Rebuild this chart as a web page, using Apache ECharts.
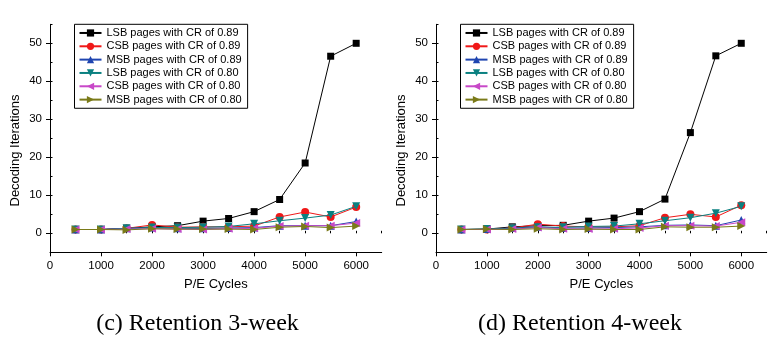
<!DOCTYPE html>
<html>
<head>
<meta charset="utf-8">
<script src="https://cdn.jsdelivr.net/npm/echarts@6/dist/echarts.min.js"></script>
<style>html,body{margin:0;padding:0;background:#fff;}#c{width:772px;height:348px;}</style>
</head>
<body>
<div id="c"></div>
<script>
const cycles = [500, 1000, 1500, 2000, 2500, 3000, 3500, 4000, 4500, 5000, 5500, 6000];
const xTicks = [0, 1000, 2000, 3000, 4000, 5000, 6000];
const yTicks = [0, 10, 20, 30, 40, 50];
const seriesNames = ['LSB pages with CR of 0.89', 'CSB pages with CR of 0.89', 'MSB pages with CR of 0.89',
                     'LSB pages with CR of 0.80', 'CSB pages with CR of 0.80', 'MSB pages with CR of 0.80'];
const captions = ['(c) Retention 3-week', '(d) Retention 4-week'];
const xTitle = 'P/E Cycles';
const yTitle = 'Decoding Iterations';

// (c) Retention 3-week
const lsb89_c = [1, 1, 1.3, 1.7, 2.0, 3.2, 3.9, 5.7, 8.9, 18.5, 46.6, 50];
const csb89_c = [1, 1, 1.3, 2.2, 1.6, 1.7, 1.7, 1.9, 4.3, 5.6, 4.3, 6.9];
const msb89_c = [1, 1, 1.3, 1.5, 1.3, 1.3, 1.4, 1.5, 2.0, 2.0, 2.0, 3.1];
const lsb80_c = [1, 1, 1.3, 1.5, 1.5, 1.6, 1.8, 2.5, 3.3, 4.0, 4.8, 7.1];
const csb80_c = [1, 1, 1.1, 1.2, 1.1, 1.0, 1.2, 1.3, 1.9, 2.0, 2.0, 2.7];
const msb80_c = [1, 1, 0.9, 1.2, 1.1, 1.1, 1.1, 1.0, 1.6, 1.8, 1.5, 1.9];

// (d) Retention 4-week
const lsb89_d = [1, 1.1, 1.7, 2.0, 2.1, 3.2, 4.0, 5.7, 9.0, 26.5, 46.7, 50];
const csb89_d = [1, 1, 1.4, 2.4, 1.9, 1.7, 1.7, 2.0, 4.1, 5.0, 4.3, 7.4];
const msb89_d = [1, 1.1, 1.4, 1.7, 1.4, 1.4, 1.5, 1.7, 2.1, 2.2, 2.0, 3.5];
const lsb80_d = [1, 1.1, 1.3, 1.6, 1.6, 1.8, 1.9, 2.5, 3.3, 4.1, 5.3, 7.1];
const csb80_d = [1, 1, 1.1, 1.5, 1.2, 1.1, 1.2, 1.4, 2.0, 2.0, 1.9, 2.9];
const msb80_d = [1, 1.1, 1.0, 1.2, 1.0, 1.1, 1.0, 1.0, 1.7, 1.6, 1.6, 1.9];

const panelData = [
  [lsb89_c, csb89_c, msb89_c, lsb80_c, csb80_c, msb80_c],
  [lsb89_d, csb89_d, msb89_d, lsb80_d, csb80_d, msb80_d]
];

const colors = ['#000000', '#f01818', '#1f45b0', '#0a8080', '#c848c8', '#7a7a18'];
const symbols = ['rect', 'circle', 'triangle', 'triangle', 'triangle', 'triangle'];
const rotates = [0, 0, 0, 180, 90, -90];
const sizes = [7, 8, 8, 8, 8, 8];

const SANS = 'Liberation Sans';
const grids = [
  { left: 50, top: 24.3, width: 331.7, height: 228 },
  { left: 436, top: 24.3, width: 330.7, height: 228 }
];

const xAxes = [], yAxes = [], series = [], legends = [], graphics = [];
grids.forEach((g, p) => {
  xAxes.push({
    type: 'value', gridIndex: p, min: 0, max: 6500,
    axisLine: { show: true, onZero: false, lineStyle: { color: '#000', width: 1 } },
    axisTick: { show: true, length: 4, inside: false, customValues: xTicks, lineStyle: { color: '#000' } },
    axisLabel: { show: true, customValues: xTicks, margin: 8, color: '#000', fontFamily: SANS, fontSize: 11.5,
                 formatter: v => String(v) },
    splitLine: { show: false },
    name: xTitle, nameLocation: 'middle', nameGap: 26,
    nameTextStyle: { color: '#000', fontFamily: SANS, fontSize: 13 }
  });
  xAxes.push({
    type: 'value', gridIndex: p, min: 0, max: 6500, interval: 500,
    axisLine: { show: false },
    axisTick: { show: true, length: 2.5, lineStyle: { color: '#000' } },
    axisLabel: { show: false }, splitLine: { show: false }
  });
  yAxes.push({
    type: 'value', gridIndex: p, min: -5, max: 55,
    axisLine: { show: true, onZero: false, lineStyle: { color: '#000', width: 1 } },
    axisTick: { show: true, length: 4, customValues: yTicks, lineStyle: { color: '#000' } },
    axisLabel: { show: true, customValues: yTicks, margin: 8, color: '#000', fontFamily: SANS, fontSize: 11.5,
                 formatter: v => String(v) },
    splitLine: { show: false }
  });
  yAxes.push({
    type: 'value', gridIndex: p, min: -5, max: 55, interval: 5,
    axisLine: { show: false },
    axisTick: { show: true, length: 2.5, lineStyle: { color: '#000' } },
    axisLabel: { show: false }, splitLine: { show: false }
  });
  panelData[p].forEach((arr, k) => {
    series.push({
      type: 'line', name: seriesNames[k], xAxisIndex: 2 * p, yAxisIndex: 2 * p,
      data: cycles.map((c, i) => [c, arr[i]]),
      symbol: symbols[k], symbolRotate: rotates[k], symbolSize: sizes[k],
      lineStyle: { color: colors[k], width: 1 },
      itemStyle: { color: colors[k] },
      animation: false, z: 2 + k
    });
  });
  legends.push({
    orient: 'vertical', left: g.left + 24.5, top: 24.3,
    data: seriesNames,
    padding: [2, 6, 2, 4], itemGap: 0, itemWidth: 22, itemHeight: 9,
    borderColor: '#000', borderWidth: 1, backgroundColor: '#fff',
    textStyle: { color: '#000', fontFamily: SANS, fontSize: 11, lineHeight: 13.33 },
    selectedMode: false
  });
  graphics.push({
    type: 'text', x: 15 + (p ? 386 : 0), y: 150.5, rotation: Math.PI / 2,
    style: { text: yTitle, fill: '#000', font: '13px "' + SANS + '"', align: 'center', verticalAlign: 'middle' }
  });
});
graphics.push({ type: 'text', x: 197.5, y: 324, style: { text: captions[0], fill: '#000', font: '24px "Liberation Serif"', align: 'center', verticalAlign: 'middle' } });
graphics.push({ type: 'text', x: 580, y: 324, style: { text: captions[1], fill: '#000', font: '24px "Liberation Serif"', align: 'center', verticalAlign: 'middle' } });

const chart = echarts.init(document.getElementById('c'), null, { renderer: 'canvas' });
chart.setOption({
  animation: false,
  backgroundColor: '#fff',
  grid: grids,
  xAxis: xAxes,
  yAxis: yAxes,
  legend: legends,
  series: series,
  graphic: graphics
});
</script>
</body>
</html>
